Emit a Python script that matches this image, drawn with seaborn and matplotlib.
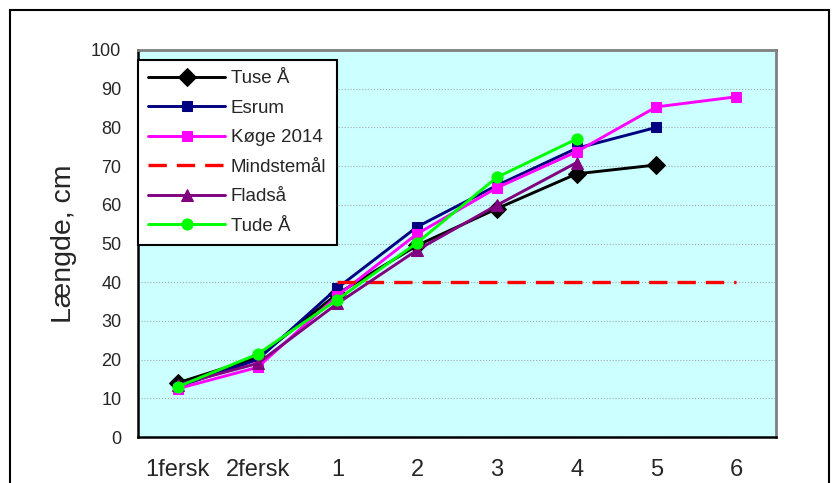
import matplotlib
matplotlib.use("Agg")
import matplotlib.pyplot as plt
from matplotlib.patches import Rectangle
import numpy as np
import seaborn as sns

CATEGORIES = ["1fersk", "2fersk", "1", "2", "3", "4", "5", "6"]

TUSE = [14, 20.5, 37, 49.5, 59, 68, 70.3, np.nan]
ESRUM = [13, 20, 38.5, 54.3, 65, 74.6, 80, np.nan]
KOGE = [12.5, 18, 36.5, 52.5, 64.4, 73.7, 85.3, 87.9]
MINDSTEMAAL = [np.nan, np.nan, 40, 40, 40, 40, 40, 40]
FLADSAA = [13.5, 19, 34.5, 48.3, 59.9, 70.9, np.nan, np.nan]
TUDE = [13, 21.4, 35.5, 50.2, 67.1, 77, np.nan, np.nan]

SERIES = [
    ("Tuse Å", TUSE, "#000000", "D", 9.5, "-"),
    ("Esrum", ESRUM, "#000080", "s", 7.5, "-"),
    ("Køge 2014", KOGE, "#FF00FF", "s", 7.5, "-"),
    ("Mindstemål", MINDSTEMAAL, "#FF0000", "", 0, (0, (5.5, 3))),
    ("Fladså", FLADSAA, "#800080", "^", 8.5, "-"),
    ("Tude Å", TUDE, "#00FF00", "o", 8, "-"),
]


def main() -> None:
    sns.set_style("white")
    plt.rcParams["font.family"] = ["Liberation Sans", "DejaVu Sans"]

    fig = plt.figure(figsize=(8.32, 4.83), dpi=100)
    ax = fig.add_axes([138 / 832, 1 - 437 / 483, (776 - 138) / 832, (437 - 50) / 483])
    ax.set_facecolor("#CCFFFF")

    positions = np.arange(len(CATEGORIES))
    for label, values, color, marker, size, style in SERIES:
        sns.lineplot(
            x=positions,
            y=np.array(values, dtype=float),
            ax=ax,
            color=color,
            marker=marker if marker else None,
            markersize=size,
            markeredgecolor=color,
            linestyle=style,
            linewidth=2.4 if style != "-" else 2.1,
            label=label,
            estimator=None,
        )

    ax.set_xlim(-0.5, len(CATEGORIES) - 0.5)
    ax.set_ylim(0, 100)
    ax.set_yticks(np.arange(0, 101, 10))
    ax.yaxis.grid(True, color="#A0AAAA", linewidth=0.8, linestyle=":")
    ax.set_axisbelow(True)

    ax.set_xticks(np.arange(-0.5, len(CATEGORIES), 1))
    ax.set_xticklabels([])
    ax.set_xticks(positions, minor=True)
    ax.set_xticklabels(CATEGORIES, minor=True)
    ax.tick_params(axis="x", which="major", direction="out", length=6, width=1.6, color="black")
    ax.tick_params(axis="x", which="minor", length=0, pad=16, labelsize=17)
    ax.tick_params(axis="y", direction="out", length=6, width=1.6, color="black", labelsize=13, pad=6)

    for side in ["left", "bottom"]:
        ax.spines[side].set_color("black")
        ax.spines[side].set_linewidth(1.8)
    for side in ["top", "right"]:
        ax.spines[side].set_color("#808080")
        ax.spines[side].set_linewidth(2)

    ax.set_ylabel("Længde, cm", fontsize=20.5, labelpad=10)
    ax.set_xlabel("")

    leg = ax.legend(
        loc="upper left",
        bbox_to_anchor=(138 / 832, 1 - 60 / 483),
        bbox_transform=fig.transFigure,
        borderaxespad=0,
        frameon=True,
        fancybox=False,
        handlelength=4.1,
        handletextpad=0.3,
        labelspacing=0.66,
        fontsize=13.5,
        borderpad=0.55,
    )
    leg.get_frame().set_edgecolor("black")
    leg.get_frame().set_linewidth(1.5)
    leg.get_frame().set_facecolor("white")
    leg.get_frame().set_alpha(1)

    fig.patches.append(
        Rectangle(
            (10 / 832, -0.05),
            (829 - 10) / 832,
            1 - 10 / 483 + 0.05,
            transform=fig.transFigure,
            fill=False,
            edgecolor="black",
            linewidth=1.5,
        )
    )

    fig.savefig("out.png", dpi=100)
    plt.close(fig)


if __name__ == "__main__":
    main()
